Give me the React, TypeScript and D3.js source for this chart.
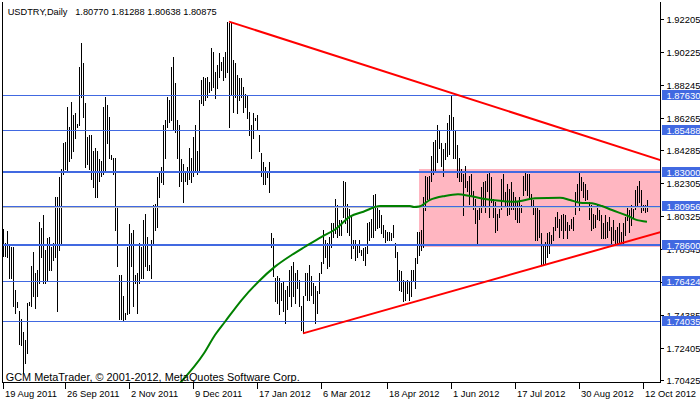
import React from "react";
import * as d3 from "d3";

// ---- data (USDTRY daily) ----
const barHigh = [
  1.7952,1.7868,1.7942,1.7858,1.7848,1.7848,1.7590,1.7514,1.7460,1.7411,
  1.7336,1.7286,1.7510,1.7514,1.7729,1.7818,1.7689,1.7709,1.7997,1.7958,
  1.8037,1.7828,1.7898,1.7908,1.7848,1.7868,1.8147,1.8147,1.8266,1.8316,
  1.8471,1.8481,1.8692,1.8571,1.8721,1.8641,1.8651,1.8585,1.8932,1.9073,
  1.8952,1.8712,1.8511,1.8521,1.8521,1.8425,1.8445,1.8425,1.8375,1.8365,
  1.8692,1.8751,1.8702,1.8631,1.8401,1.8385,1.8385,1.8087,1.7679,1.7679,
  1.7550,1.7450,1.7848,1.7987,1.7928,1.7948,1.7679,1.7689,1.7868,1.7848,
  1.8007,1.8047,1.7908,1.7739,1.7888,1.8097,1.8107,1.8266,1.8296,1.8326,
  1.8581,1.8611,1.8751,1.8731,
  1.8932,1.8993,1.8832,1.8611,1.8581,1.8375,
  1.8346,1.8306,1.8326,1.8445,1.8385,1.8511,1.8581,1.8425,1.8731,1.8852,
  1.8872,1.8862,1.8872,1.8842,1.9043,1.9023,1.8903,1.8942,1.9013,1.8962,
  1.8993,1.9023,1.9204,1.9194,1.9204,1.8972,1.8952,1.8882,1.8862,1.8862,
  1.8812,1.8771,1.8761,1.8661,1.8581,1.8651,1.8621,1.8641,1.8521,1.8415,
  1.8356,1.8326,1.8296,1.8356,
  1.7928,1.7898,1.7659,1.7669,1.7659,1.7629,
  1.7639,1.7590,1.7610,1.7709,1.7729,1.7759,1.7689,1.7709,1.7649,1.7490,
  1.7550,1.7689,1.7689,1.7739,1.7669,1.7629,1.7610,1.7580,1.7689,1.7759,
  1.7948,1.7888,1.7868,1.7908,
  1.7988,1.7988,1.8137,1.8097,1.8007,1.8007,
  1.8246,1.8236,1.8107,1.8077,1.8037,1.7888,1.7888,1.7858,1.7888,1.7828,
  1.7838,1.7848,1.7988,1.7997,1.8017,1.8157,1.8167,1.8087,1.8067,1.8037,
  1.7978,1.7948,1.7938,1.7938,1.7928,1.7978,1.7868,1.7818,1.7709,1.7699,
  1.7649,1.7639,1.7649,1.7639,1.7709,1.7709,1.7779,1.7938,1.7938,1.7948,
  1.8147,1.8276,1.8266,1.8276,1.8395,1.8481,1.8491,1.8581,1.8550,1.8471,
  1.8435,1.8471,1.8591,1.8641,1.8761,1.8631,1.8550,1.8461,1.8385,1.8316,
  1.8286,1.8336,1.8246,1.8276,1.8286,1.8186,1.8137,1.8067,1.8087,1.8206,
  1.8236,1.8246,1.8286,1.8296,1.8266,1.8137,1.8117,1.8047,1.8077,
  1.8256,1.8286,1.8177,1.8226,1.8196,1.8236,1.8177,1.8147,1.8117,1.8147,1.8097,
  1.8276,1.8306,1.8286,1.8286,1.8167,1.8127,1.8087,1.8087,1.8067,1.7928,
  1.7858,1.7878,1.7928,1.7938,1.7918,1.7968,1.8027,1.8057,1.8017,1.8037,
  1.8047,1.8037,1.7998,1.7978,1.8017,1.8027,1.8177,1.8226,1.8290,1.8266,
  1.8236,1.8226,1.8187,1.8117,1.8097,1.8047,1.8037,1.8107,1.8067,1.8037,
  1.7988,1.8037,1.7998,1.8027,1.7968,1.8007,1.7948,1.7968,1.7988,1.7938,
  1.7988,1.8027,1.8087,1.8067,1.8097,1.8077,1.8187,1.8216,1.8246,1.8187,
  1.8097,1.8097,1.81288,
];

const barLow = [
  1.7793,1.7793,1.7789,1.7659,1.7659,1.7490,1.7450,1.7486,1.7265,1.7255,
  1.7085,1.7145,1.7210,1.7498,1.7490,1.7550,1.7480,1.7550,1.7629,1.7789,
  1.7629,1.7629,1.7649,1.7709,1.7709,1.7769,1.7789,1.7460,1.7828,1.7868,
  1.8286,1.8316,1.8306,1.8365,1.8385,1.8425,1.8501,1.8571,1.8581,1.8751,
  1.8631,1.8326,1.8346,1.8316,1.8256,1.8206,1.8147,1.8147,1.8246,1.8276,
  1.8286,1.8306,1.8471,1.8385,1.8375,1.8286,1.7948,1.7729,1.7411,1.7411,
  1.7401,1.7411,1.7440,1.7450,1.7729,1.7490,1.7629,1.7450,1.7629,1.7659,
  1.7659,1.7729,1.7709,1.7709,1.7659,1.7868,1.7948,1.7968,1.8147,1.8236,
  1.8226,1.8385,1.8571,1.8601,
  1.8611,1.8550,1.8540,1.8385,1.8216,1.8246,
  1.8117,1.8246,1.8226,1.8256,1.8236,1.8276,1.8306,1.8286,1.8296,1.8712,
  1.8702,1.8731,1.8751,1.8781,1.8792,1.8812,1.8741,1.8802,1.8872,1.8912,
  1.8852,1.8872,1.8903,1.8571,1.8761,1.8661,1.8751,1.8651,1.8731,1.8751,
  1.8661,1.8692,1.8621,1.8521,1.8385,1.8501,1.8611,1.8550,1.8425,1.8276,
  1.8226,1.8226,1.8266,1.8176,
  1.7848,1.7669,1.7520,1.7510,1.7440,1.7530,
  1.7460,1.7391,1.7470,1.7550,1.7490,1.7550,1.7510,1.7600,1.7490,1.7347,
  1.7326,1.7560,1.7530,1.7530,1.7560,1.7510,1.7391,1.7450,1.7570,1.7689,
  1.7749,1.7789,1.7719,1.7729,
  1.7848,1.7908,1.7928,1.7908,1.7918,1.7918,
  1.8027,1.7988,1.7938,1.7918,1.7779,1.7838,1.7769,1.7789,1.7818,1.7798,
  1.7769,1.7739,1.7808,1.7888,1.7908,1.7908,1.7948,1.7958,1.7968,1.7928,
  1.7908,1.7878,1.7888,1.7888,1.7888,1.7908,1.7789,1.7649,1.7590,1.7580,
  1.7520,1.7530,1.7570,1.7530,1.7550,1.7639,1.7600,1.7749,1.7798,1.7828,
  1.7848,1.8067,1.8137,1.8127,1.8246,1.8286,1.8296,1.8356,1.8445,1.8336,
  1.8276,1.8375,1.8395,1.8405,1.8550,1.8385,1.8385,1.8266,1.8246,1.8246,
  1.8037,1.8206,1.8186,1.8107,1.8157,1.8077,1.7988,1.7868,1.8017,1.8057,
  1.8097,1.8057,1.8186,1.8027,1.8117,1.8027,1.7938,1.7948,1.8027,
  1.8077,1.8127,1.8097,1.8037,1.8047,1.8077,1.8077,1.8017,1.7998,1.7998,1.8057,
  1.8157,1.8187,1.8157,1.8137,1.8087,1.8047,1.7888,1.7888,1.7908,1.7739,
  1.7739,1.7749,1.7789,1.7809,1.7858,1.7888,1.7948,1.7968,1.7908,1.7948,
  1.7898,1.7948,1.7898,1.7948,1.7958,1.7948,1.8047,1.8117,1.8067,1.8187,
  1.8147,1.8127,1.8137,1.8017,1.7948,1.7958,1.7968,1.8017,1.8007,1.7898,
  1.7898,1.7898,1.7908,1.7948,1.7868,1.7888,1.7868,1.7858,1.7868,1.7878,
  1.7868,1.7918,1.8007,1.7938,1.7978,1.8027,1.8077,1.8087,1.8117,1.8057,
  1.8067,1.8057,1.80638,
];

// moving average (green), read at bar positions
const maIdx = [88.5,100.5,106,111,119.3,127.7,136,144.3,151,159.3,166,173.5,180.2,188.5,203.5,205.5,208,213.5,221,227.5,233.5,241,248.5,256,266,278.5,283.5,288.5,294.5,299.5,304.5,312.5,316,322];
const maVal = [1.7027,1.7206,1.7316,1.7396,1.7527,1.7637,1.7728,1.7798,1.7848,1.7908,1.7952,1.8029,1.8059,1.8093,1.8093,1.8087,1.8090,1.8130,1.8154,1.8164,1.8154,1.8136,1.8125,1.8119,1.8140,1.8143,1.8130,1.8113,1.8110,1.8093,1.8069,1.8033,1.8013,1.7999];

// horizontal levels
const levelValues = [1.8763, 1.85488, 1.83, 1.80956, 1.786, 1.76424, 1.74035];
const levelLabels = ["1.87630", "1.85488", "1.83000", "1.80956", "1.78600", "1.76424", "1.74035"];
const levelThick = [false, false, true, false, true, false, false];

const bidPrice = 1.80875;

// trend lines: [startIdx, startPrice, refIdx, refPrice]
const upperTrend = [113, 1.9204, 322, 1.8396];
const lowerTrend = [150, 1.7326, 322, 1.7913];

// rectangle
const zoneStartIdx = 208;
const zoneTop = 1.8314;
const zoneBottom = 1.7845;

// axes
const yTickValues = [1.92205, 1.90225, 1.88245, 1.86265, 1.84285, 1.82305, 1.80325, 1.78345, 1.76365, 1.74385, 1.72405, 1.70425];
const yTickLabels = ["1.92205", "1.90225", "1.88245", "1.86265", "1.84285", "1.82305", "1.80325", "1.78345", "1.76365", "1.74385", "1.72405", "1.70425"];
const dateIdx = [0, 31, 63, 95, 127, 159, 192, 224, 256, 288, 320];
const dateLabels = ["19 Aug 2011", "26 Sep 2011", "2 Nov 2011", "9 Dec 2011", "17 Jan 2012", "6 Mar 2012", "18 Apr 2012", "1 Jun 2012", "17 Jul 2012", "30 Aug 2012", "12 Oct 2012"];

const headerText = "USDTRY,Daily\u00A0\u00A0 1.80770 1.81288 1.80638 1.80875";
const footerText = "GCM MetaTrader, \u00A9 2001-2012, MetaQuotes Software Corp.";

const W = 700;
const H = 402;
const L = 2;
const R = 660;
const T = 2;
const B = 382;
const FONT = "'Liberation Sans', Arial, sans-serif";
const FS = 9.4;
const BLUE = "#4169E1";

export default function App() {
  const x = d3.scaleLinear().domain([0, 322]).range([3, 647]);
  // 1.83000 sits at y=171.7, 1660 px per unit
  const y = d3.scaleLinear().domain([1.70425, 1.92205]).range([380.445, 18.897]);

  const trendPath = (t: number[]) => {
    const [i0, p0, i1, p1] = t;
    const slope = (p1 - p0) / (i1 - i0);
    const iEnd = x.invert(R + 2);
    const line = d3.line<[number, number]>().x((d) => x(d[0])).y((d) => y(d[1]));
    return line([
      [i0, p0],
      [iEnd, p0 + slope * (iEnd - i0)],
    ]) as string;
  };

  const maLine = d3
    .line<number>()
    .x((_, i) => x(maIdx[i]))
    .y((d) => y(d))
    .curve(d3.curveMonotoneX);

  return (
    <svg
      width={W}
      height={H}
      style={{ position: "absolute", left: 0, top: 0, background: "#fff" }}
      fontFamily={FONT}
    >
      <defs>
        <clipPath id="plot">
          <rect x={L + 1} y={T} width={R - L - 1} height={B - T} />
        </clipPath>
      </defs>
      <rect x={0} y={0} width={W} height={H} fill="#fff" />

      <g clipPath="url(#plot)">
        {/* zone rectangle */}
        <rect
          x={Math.round(x(zoneStartIdx))}
          y={Math.round(y(zoneTop))}
          width={R - Math.round(x(zoneStartIdx))}
          height={Math.round(y(zoneBottom)) - Math.round(y(zoneTop))}
          fill="#FFB6C1"
        />
        {/* bars */}
        {barHigh.map((h, i) => {
          const y1 = Math.round(y(h));
          const y2 = Math.round(y(barLow[i]));
          return (
            <rect
              key={i}
              x={Math.round(x(i))}
              y={y1}
              width={1}
              height={Math.max(1, y2 - y1 + 1)}
              fill="#000"
              shapeRendering="crispEdges"
            />
          );
        })}
        {/* bid line */}
        <rect
          x={L}
          y={Math.round(y(bidPrice))}
          width={R - L}
          height={1}
          fill="#C0C0C0"
          shapeRendering="crispEdges"
        />
        {/* levels */}
        {levelValues.map((v, i) => (
          <rect
            key={i}
            x={L}
            y={levelThick[i] ? Math.round(y(v)) - 1 : Math.round(y(v))}
            width={R - L}
            height={levelThick[i] ? 2 : 1}
            fill={BLUE}
            shapeRendering="crispEdges"
          />
        ))}
        {/* moving average */}
        <path d={maLine(maVal) as string} fill="none" stroke="#008000" strokeWidth={2} />
        {/* trend lines */}
        <path d={trendPath(upperTrend)} fill="none" stroke="#FF0000" strokeWidth={2} />
        <path d={trendPath(lowerTrend)} fill="none" stroke="#FF0000" strokeWidth={2} />
      </g>

      {/* frame */}
      <rect x={L} y={T} width={1} height={B - T + 1} fill="#000" shapeRendering="crispEdges" />
      <rect x={R} y={T} width={1} height={B - T + 1} fill="#000" shapeRendering="crispEdges" />
      <rect x={L} y={B} width={R - L + 1} height={1} fill="#000" shapeRendering="crispEdges" />

      {/* header / footer */}
      <text x={7.7} y={14.5} fontSize={9.6} fill="#000" textLength={209} lengthAdjust="spacingAndGlyphs">
        {headerText}
      </text>
      <text x={5.7} y={380.5} fontSize={10} fill="#000" textLength={294} lengthAdjust="spacingAndGlyphs">
        {footerText}
      </text>

      {/* y axis */}
      {yTickValues.map((v, i) => {
        const ty = Math.round(y(v));
        return (
          <g key={i}>
            <rect x={R + 1} y={ty} width={3} height={1} fill="#000" shapeRendering="crispEdges" />
            <text x={666.5} y={ty + 3.5} fontSize={FS} fill="#000">
              {yTickLabels[i]}
            </text>
          </g>
        );
      })}
      {levelValues.map((v, i) => {
        const ty = Math.round(y(v));
        return (
          <g key={i}>
            <rect x={R + 2} y={ty - 5} width={W - R - 2} height={10} fill={BLUE} />
            <text x={666.5} y={ty + 3.5} fontSize={FS} fill="#fff">
              {levelLabels[i]}
            </text>
          </g>
        );
      })}

      {/* x axis */}
      {dateIdx.map((d, i) => {
        const tx = Math.round(x(d));
        return (
          <g key={i}>
            <rect x={tx} y={B + 1} width={1} height={6} fill="#000" shapeRendering="crispEdges" />
            <text x={tx + 2} y={396.5} fontSize={FS} fill="#000">
              {dateLabels[i]}
            </text>
          </g>
        );
      })}
    </svg>
  );
}
